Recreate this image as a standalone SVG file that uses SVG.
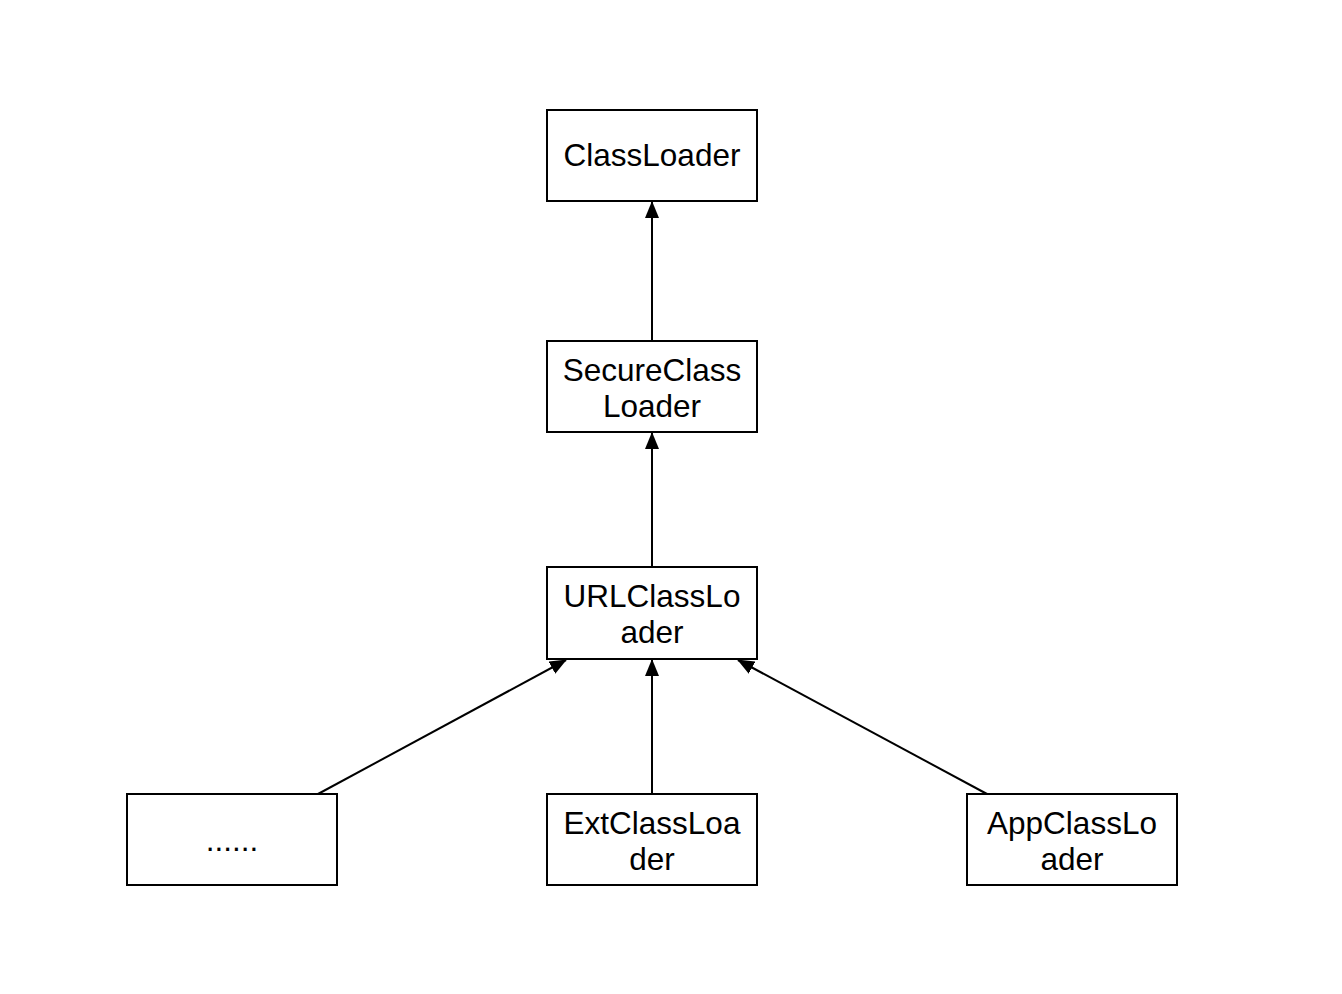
<svg xmlns="http://www.w3.org/2000/svg" width="1342" height="994" viewBox="0 0 1342 994">
<style>
.box{fill:#fff;stroke:#000;stroke-width:2}
.t{font-family:"Liberation Sans",Arial,sans-serif;font-size:31.5px;fill:#000;text-anchor:middle}
.e{fill:none;stroke:#000;stroke-width:2;marker-end:url(#ah)}
</style>
<defs>
<marker id="ah" markerUnits="userSpaceOnUse" markerWidth="17" markerHeight="14" refX="16" refY="7" orient="auto" viewBox="0 0 17 14">
<path d="M0,0 L17,7 L0,14 Z" fill="#000"/>
</marker>
</defs>
<rect width="1342" height="994" fill="#fff"/>
<g id="connectors">
<line class="e" x1="652" y1="341" x2="652" y2="202"/>
<line class="e" x1="652" y1="567" x2="652" y2="433"/>
<line class="e" x1="652" y1="794" x2="652" y2="660"/>
<line class="e" x1="318" y1="794" x2="566" y2="660"/>
<line class="e" x1="987" y1="794" x2="738" y2="660"/>
</g>
<g id="classloader">
<rect class="box" x="547" y="110" width="210" height="91"/>
<text class="t" x="652" y="166">ClassLoader</text>
</g>
<g id="secureclassloader">
<rect class="box" x="547" y="341" width="210" height="91"/>
<text class="t" x="652" y="381">SecureClass</text>
<text class="t" x="652" y="417">Loader</text>
</g>
<g id="urlclassloader">
<rect class="box" x="547" y="567" width="210" height="92"/>
<text class="t" x="652" y="607">URLClassLo</text>
<text class="t" x="652" y="643">ader</text>
</g>
<g id="others">
<rect class="box" x="127" y="794" width="210" height="91"/>
<text class="t" x="232" y="851">......</text>
</g>
<g id="extclassloader">
<rect class="box" x="547" y="794" width="210" height="91"/>
<text class="t" x="652" y="834">ExtClassLoa</text>
<text class="t" x="652" y="870">der</text>
</g>
<g id="appclassloader">
<rect class="box" x="967" y="794" width="210" height="91"/>
<text class="t" x="1072" y="834">AppClassLo</text>
<text class="t" x="1072" y="870">ader</text>
</g>
</svg>
